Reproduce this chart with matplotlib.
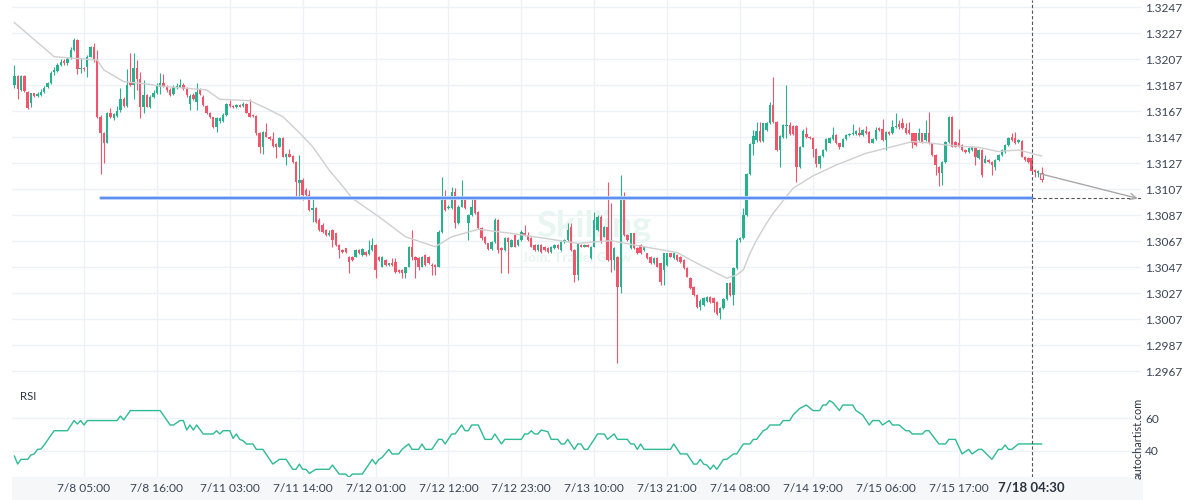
import matplotlib

matplotlib.use("Agg")
import matplotlib.pyplot as plt
from matplotlib.patches import Rectangle

plt.rcParams["font.family"] = ["Lato", "DejaVu Sans"]

GREEN = "#27b18f"
RED = "#f0556b"
BLUE = "#5b8ff0"
BLUE_GLOW = "#b6cffb"
MA_GREY = "#cfcfcf"
RSI_TEAL = "#2dba95"
GRID = "#eef2f7"
TEXT = "#3a4455"
BAND = "#f6f7f9"

# 30-minute candles, oldest first
opens = [
    1.31872, 1.31941, 1.31834, 1.31941, 1.31821, 1.31731, 1.31808, 1.31790, 1.31795, 1.31821,
    1.31854, 1.31885, 1.31975, 1.31982, 1.32026, 1.32057, 1.32039, 1.32077, 1.32141, 1.32218,
    1.31993, 1.32000, 1.32013, 1.32090, 1.32167, 1.32064, 1.31629, 1.31500, 1.31429, 1.31654,
    1.31616, 1.31634, 1.31680, 1.31767, 1.31711, 1.31885, 1.31870, 1.32000, 1.31918, 1.31706,
    1.31795, 1.31706, 1.31777, 1.31808, 1.31854, 1.31890, 1.31859, 1.31834, 1.31800, 1.31847,
    1.31859, 1.31872, 1.31839, 1.31726, 1.31795, 1.31744, 1.31834, 1.31782, 1.31711, 1.31654,
    1.31623, 1.31552, 1.31598, 1.31598, 1.31641, 1.31726, 1.31711, 1.31700, 1.31718, 1.31711,
    1.31726, 1.31659, 1.31641, 1.31634, 1.31500, 1.31398, 1.31513, 1.31470, 1.31454, 1.31418,
    1.31398, 1.31462, 1.31321, 1.31341, 1.31326, 1.31282, 1.31116, 1.31141, 1.31064, 1.31026,
    1.30910, 1.30923, 1.30834, 1.30795, 1.30757, 1.30718, 1.30757, 1.30731, 1.30641, 1.30603,
    1.30616, 1.30552, 1.30552, 1.30552, 1.30603, 1.30564, 1.30590, 1.30572, 1.30603, 1.30641,
    1.30552, 1.30475, 1.30526, 1.30487, 1.30500, 1.30513, 1.30449, 1.30449, 1.30423, 1.30475,
    1.30628, 1.30552, 1.30539, 1.30475, 1.30564, 1.30552, 1.30487, 1.30487, 1.30475, 1.30744,
    1.30987, 1.30923, 1.30923, 1.31051, 1.30808, 1.30936, 1.30987, 1.30808, 1.30872, 1.30993,
    1.30898, 1.30770, 1.30705, 1.30654, 1.30610, 1.30667, 1.30834, 1.30616, 1.30603, 1.30693,
    1.30628, 1.30718, 1.30641, 1.30680, 1.30736, 1.30718, 1.30693, 1.30641, 1.30603, 1.30641,
    1.30628, 1.30616, 1.30590, 1.30616, 1.30641, 1.30603, 1.30667, 1.30680, 1.30782, 1.30603,
    1.30410, 1.30641, 1.30628, 1.30641, 1.30539, 1.30628, 1.30757, 1.30859, 1.30705, 1.30782,
    1.30680, 1.30526, 1.30552, 1.30321, 1.31000, 1.30718, 1.30616, 1.30731, 1.30616, 1.30641,
    1.30603, 1.30577, 1.30552, 1.30500, 1.30539, 1.30500, 1.30449, 1.30487, 1.30577, 1.30539,
    1.30564, 1.30550, 1.30527, 1.30463, 1.30386, 1.30322, 1.30257, 1.30168, 1.30181, 1.30214,
    1.30245, 1.30232, 1.30206, 1.30116, 1.30155, 1.30224, 1.30352, 1.30257, 1.30463, 1.30680,
    1.30693, 1.30873, 1.31188, 1.31419, 1.31450, 1.31522, 1.31445, 1.31527, 1.31578, 1.31719,
    1.31591, 1.31373, 1.31470, 1.31557, 1.31565, 1.31557, 1.31557, 1.31239, 1.31398, 1.31496,
    1.31475, 1.31463, 1.31378, 1.31265, 1.31327, 1.31373, 1.31429, 1.31455, 1.31488, 1.31424,
    1.31398, 1.31455, 1.31488, 1.31493, 1.31496, 1.31501, 1.31488, 1.31522, 1.31514, 1.31429,
    1.31455, 1.31540, 1.31532, 1.31450, 1.31514, 1.31501, 1.31547, 1.31573, 1.31578, 1.31539,
    1.31526, 1.31501, 1.31501, 1.31449, 1.31501, 1.31449, 1.31501, 1.31424, 1.31334, 1.31244,
    1.31193, 1.31283, 1.31437, 1.31629, 1.31437, 1.31424, 1.31411, 1.31373, 1.31360, 1.31373,
    1.31385, 1.31308, 1.31373, 1.31275, 1.31296, 1.31283, 1.31244, 1.31296, 1.31334, 1.31360,
    1.31411, 1.31470, 1.31462, 1.31437, 1.31444, 1.31321, 1.31308, 1.31308, 1.31219, 1.31198,
    1.31198,
]
highs = [
    1.32026, 1.31949, 1.31947, 1.31947, 1.31829, 1.31813, 1.31813, 1.31821, 1.31839, 1.31864,
    1.31898, 1.31977, 1.32013, 1.32039, 1.32070, 1.32070, 1.32085, 1.32167, 1.32231, 1.32223,
    1.32077, 1.32013, 1.32103, 1.32172, 1.32193, 1.32141, 1.31641, 1.31513, 1.31667, 1.31693,
    1.31659, 1.31711, 1.31847, 1.31777, 1.31993, 1.32116, 1.32116, 1.32064, 1.31975, 1.31911,
    1.31803, 1.31795, 1.31834, 1.31885, 1.31967, 1.31957, 1.31872, 1.31847, 1.31872, 1.31885,
    1.31921, 1.31885, 1.31854, 1.31803, 1.31808, 1.31885, 1.31847, 1.31795, 1.31718, 1.31667,
    1.31629, 1.31629, 1.31629, 1.31654, 1.31731, 1.31757, 1.31718, 1.31726, 1.31726, 1.31744,
    1.31731, 1.31762, 1.31649, 1.31641, 1.31513, 1.31521, 1.31582, 1.31480, 1.31513, 1.31423,
    1.31470, 1.31470, 1.31352, 1.31377, 1.31334, 1.31290, 1.31334, 1.31154, 1.31077, 1.31064,
    1.31000, 1.30931, 1.30846, 1.30808, 1.30762, 1.30757, 1.30762, 1.30736, 1.30649, 1.30608,
    1.30616, 1.30557, 1.30557, 1.30608, 1.30608, 1.30616, 1.30598, 1.30680, 1.30693, 1.30649,
    1.30557, 1.30557, 1.30531, 1.30505, 1.30539, 1.30539, 1.30454, 1.30454, 1.30475, 1.30634,
    1.30757, 1.30557, 1.30546, 1.30557, 1.30572, 1.30557, 1.30500, 1.30495, 1.30757, 1.31167,
    1.31064, 1.30949, 1.31090, 1.31077, 1.30949, 1.31141, 1.30993, 1.30880, 1.31000, 1.31000,
    1.30905, 1.30777, 1.30710, 1.30659, 1.30675, 1.30846, 1.30839, 1.30623, 1.30700, 1.30700,
    1.30685, 1.30726, 1.30685, 1.30757, 1.30795, 1.30744, 1.30700, 1.30649, 1.30649, 1.30649,
    1.30634, 1.30623, 1.30634, 1.30649, 1.30649, 1.30675, 1.30685, 1.30808, 1.30808, 1.30608,
    1.30659, 1.30649, 1.30649, 1.30649, 1.30634, 1.30898, 1.30872, 1.30872, 1.30787, 1.31128,
    1.30962, 1.30623, 1.30557, 1.31180, 1.31051, 1.30726, 1.30736, 1.30736, 1.30623, 1.30649,
    1.30634, 1.30582, 1.30557, 1.30546, 1.30546, 1.30505, 1.30582, 1.30582, 1.30582, 1.30582,
    1.30572, 1.30560, 1.30532, 1.30470, 1.30393, 1.30327, 1.30265, 1.30224, 1.30240, 1.30250,
    1.30250, 1.30240, 1.30214, 1.30163, 1.30232, 1.30352, 1.30360, 1.30470, 1.30693, 1.30706,
    1.30924, 1.31198, 1.31424, 1.31527, 1.31591, 1.31591, 1.31583, 1.31591, 1.31745, 1.31937,
    1.31598, 1.31488, 1.31573, 1.31873, 1.31591, 1.31565, 1.31565, 1.31404, 1.31532, 1.31547,
    1.31480, 1.31470, 1.31386, 1.31334, 1.31378, 1.31463, 1.31475, 1.31547, 1.31496, 1.31429,
    1.31463, 1.31496, 1.31501, 1.31573, 1.31527, 1.31552, 1.31532, 1.31557, 1.31522, 1.31463,
    1.31552, 1.31547, 1.31609, 1.31522, 1.31522, 1.31604, 1.31655, 1.31604, 1.31616, 1.31578,
    1.31590, 1.31506, 1.31506, 1.31539, 1.31506, 1.31603, 1.31662, 1.31429, 1.31342, 1.31249,
    1.31291, 1.31444, 1.31634, 1.31634, 1.31444, 1.31532, 1.31419, 1.31378, 1.31393, 1.31403,
    1.31393, 1.31378, 1.31378, 1.31334, 1.31301, 1.31291, 1.31301, 1.31342, 1.31378, 1.31419,
    1.31470, 1.31506, 1.31514, 1.31455, 1.31449, 1.31326, 1.31316, 1.31316, 1.31224, 1.31219,
    1.31244,
]
lows = [
    1.31847, 1.31762, 1.31829, 1.31821, 1.31685, 1.31706, 1.31782, 1.31782, 1.31788, 1.31813,
    1.31847, 1.31880, 1.31949, 1.31975, 1.32018, 1.32026, 1.32026, 1.32070, 1.32136, 1.31957,
    1.31962, 1.31982, 1.31936, 1.32085, 1.32052, 1.31616, 1.31188, 1.31270, 1.31423, 1.31616,
    1.31603, 1.31629, 1.31667, 1.31700, 1.31706, 1.31864, 1.31767, 1.31834, 1.31616, 1.31654,
    1.31700, 1.31693, 1.31770, 1.31803, 1.31800, 1.31854, 1.31821, 1.31788, 1.31795, 1.31839,
    1.31854, 1.31834, 1.31782, 1.31680, 1.31757, 1.31680, 1.31795, 1.31711, 1.31649, 1.31616,
    1.31539, 1.31513, 1.31579, 1.31590, 1.31634, 1.31706, 1.31693, 1.31693, 1.31700, 1.31706,
    1.31654, 1.31623, 1.31623, 1.31488, 1.31347, 1.31341, 1.31470, 1.31449, 1.31398, 1.31308,
    1.31393, 1.31316, 1.31257, 1.31316, 1.31275, 1.31013, 1.31013, 1.30987, 1.31018, 1.30905,
    1.30821, 1.30813, 1.30752, 1.30736, 1.30710, 1.30710, 1.30628, 1.30634, 1.30539, 1.30582,
    1.30582, 1.30423, 1.30521, 1.30546, 1.30572, 1.30557, 1.30557, 1.30564, 1.30598, 1.30385,
    1.30521, 1.30469, 1.30480, 1.30480, 1.30480, 1.30428, 1.30428, 1.30385, 1.30385, 1.30469,
    1.30526, 1.30385, 1.30449, 1.30469, 1.30480, 1.30495, 1.30410, 1.30410, 1.30469, 1.30736,
    1.30905, 1.30916, 1.30916, 1.30769, 1.30803, 1.30931, 1.30916, 1.30680, 1.30864, 1.30880,
    1.30762, 1.30680, 1.30649, 1.30603, 1.30603, 1.30659, 1.30577, 1.30423, 1.30598, 1.30423,
    1.30623, 1.30623, 1.30634, 1.30675, 1.30710, 1.30675, 1.30623, 1.30598, 1.30598, 1.30582,
    1.30598, 1.30582, 1.30582, 1.30608, 1.30608, 1.30598, 1.30659, 1.30675, 1.30598, 1.30359,
    1.30372, 1.30623, 1.30623, 1.30623, 1.30531, 1.30623, 1.30752, 1.30659, 1.30700, 1.30521,
    1.30436, 1.30449, 1.29731, 1.30269, 1.30710, 1.30675, 1.30608, 1.30608, 1.30572, 1.30572,
    1.30598, 1.30531, 1.30495, 1.30495, 1.30469, 1.30334, 1.30334, 1.30480, 1.30546, 1.30531,
    1.30521, 1.30500, 1.30455, 1.30393, 1.30301, 1.30250, 1.30155, 1.30142, 1.30173, 1.30206,
    1.30198, 1.30129, 1.30104, 1.30070, 1.30147, 1.30219, 1.30250, 1.30181, 1.30455, 1.30668,
    1.30686, 1.30865, 1.31180, 1.31334, 1.31437, 1.31437, 1.31437, 1.31522, 1.31573, 1.31583,
    1.31368, 1.31245, 1.31463, 1.31463, 1.31488, 1.31488, 1.31129, 1.31232, 1.31393, 1.31463,
    1.31455, 1.31322, 1.31245, 1.31232, 1.31322, 1.31368, 1.31424, 1.31450, 1.31419, 1.31378,
    1.31393, 1.31450, 1.31480, 1.31488, 1.31488, 1.31480, 1.31480, 1.31496, 1.31424, 1.31424,
    1.31450, 1.31522, 1.31445, 1.31373, 1.31488, 1.31496, 1.31540, 1.31535, 1.31532, 1.31496,
    1.31496, 1.31385, 1.31403, 1.31444, 1.31429, 1.31444, 1.31419, 1.31326, 1.31180, 1.31096,
    1.31103, 1.31275, 1.31429, 1.31393, 1.31393, 1.31393, 1.31367, 1.31352, 1.31352, 1.31367,
    1.31257, 1.31301, 1.31167, 1.31270, 1.31275, 1.31180, 1.31219, 1.31291, 1.31326, 1.31352,
    1.31403, 1.31444, 1.31419, 1.31429, 1.31316, 1.31291, 1.31275, 1.31206, 1.31167, 1.31167,
    1.31129,
]
closes = [
    1.31941, 1.31844, 1.31941, 1.31829, 1.31693, 1.31808, 1.31790, 1.31800, 1.31818, 1.31849,
    1.31885, 1.31967, 1.31988, 1.32026, 1.32052, 1.32039, 1.32075, 1.32141, 1.32218, 1.31993,
    1.32000, 1.31993, 1.32090, 1.32167, 1.32064, 1.31629, 1.31500, 1.31429, 1.31654, 1.31623,
    1.31649, 1.31675, 1.31767, 1.31711, 1.31872, 1.31870, 1.32000, 1.31918, 1.31706, 1.31795,
    1.31706, 1.31782, 1.31813, 1.31864, 1.31885, 1.31859, 1.31834, 1.31795, 1.31854, 1.31864,
    1.31872, 1.31839, 1.31795, 1.31788, 1.31762, 1.31818, 1.31803, 1.31718, 1.31654, 1.31623,
    1.31547, 1.31616, 1.31616, 1.31641, 1.31726, 1.31711, 1.31700, 1.31716, 1.31706, 1.31726,
    1.31659, 1.31629, 1.31634, 1.31500, 1.31398, 1.31513, 1.31475, 1.31454, 1.31403, 1.31398,
    1.31462, 1.31321, 1.31341, 1.31321, 1.31282, 1.31129, 1.31141, 1.31026, 1.31026, 1.30910,
    1.30923, 1.30821, 1.30757, 1.30744, 1.30718, 1.30731, 1.30680, 1.30641, 1.30603, 1.30590,
    1.30590, 1.30513, 1.30526, 1.30603, 1.30577, 1.30608, 1.30564, 1.30603, 1.30641, 1.30449,
    1.30526, 1.30546, 1.30487, 1.30500, 1.30487, 1.30436, 1.30436, 1.30423, 1.30469, 1.30628,
    1.30552, 1.30526, 1.30475, 1.30552, 1.30487, 1.30500, 1.30480, 1.30475, 1.30744, 1.30987,
    1.30910, 1.30936, 1.31051, 1.30808, 1.30936, 1.31000, 1.30923, 1.30872, 1.30936, 1.30885,
    1.30770, 1.30693, 1.30654, 1.30610, 1.30667, 1.30834, 1.30603, 1.30603, 1.30693, 1.30667,
    1.30680, 1.30628, 1.30680, 1.30744, 1.30718, 1.30680, 1.30628, 1.30603, 1.30641, 1.30590,
    1.30603, 1.30590, 1.30628, 1.30641, 1.30616, 1.30667, 1.30680, 1.30757, 1.30603, 1.30410,
    1.30654, 1.30628, 1.30641, 1.30628, 1.30628, 1.30834, 1.30859, 1.30667, 1.30782, 1.30526,
    1.30526, 1.30616, 1.30321, 1.31000, 1.30718, 1.30680, 1.30731, 1.30616, 1.30577, 1.30577,
    1.30628, 1.30539, 1.30500, 1.30539, 1.30475, 1.30359, 1.30577, 1.30577, 1.30552, 1.30577,
    1.30526, 1.30510, 1.30463, 1.30398, 1.30309, 1.30257, 1.30163, 1.30214, 1.30232, 1.30240,
    1.30206, 1.30193, 1.30111, 1.30155, 1.30224, 1.30347, 1.30257, 1.30463, 1.30680, 1.30693,
    1.30873, 1.31188, 1.31419, 1.31480, 1.31522, 1.31445, 1.31578, 1.31578, 1.31719, 1.31591,
    1.31373, 1.31480, 1.31565, 1.31565, 1.31496, 1.31496, 1.31239, 1.31398, 1.31522, 1.31470,
    1.31463, 1.31378, 1.31265, 1.31327, 1.31373, 1.31455, 1.31463, 1.31488, 1.31424, 1.31398,
    1.31455, 1.31488, 1.31496, 1.31501, 1.31522, 1.31488, 1.31527, 1.31501, 1.31429, 1.31455,
    1.31527, 1.31527, 1.31450, 1.31514, 1.31496, 1.31552, 1.31557, 1.31547, 1.31539, 1.31501,
    1.31501, 1.31424, 1.31411, 1.31501, 1.31437, 1.31501, 1.31424, 1.31334, 1.31257, 1.31193,
    1.31283, 1.31437, 1.31629, 1.31398, 1.31398, 1.31398, 1.31373, 1.31360, 1.31385, 1.31398,
    1.31321, 1.31373, 1.31180, 1.31301, 1.31283, 1.31257, 1.31296, 1.31334, 1.31373, 1.31411,
    1.31462, 1.31449, 1.31424, 1.31449, 1.31321, 1.31296, 1.31283, 1.31214, 1.31206, 1.31214,
    1.31147,
]

# moving average read at sample candles
ma_idx = [0, 12, 25, 27, 33, 40, 44, 58, 62, 71, 76, 81, 86, 90, 95, 100, 102, 110, 118, 127,
          132, 140, 150, 160, 170, 180, 190, 200, 206, 215, 218, 220, 222, 224, 227, 229, 233,
          235, 241, 248, 257, 265, 271, 277, 281, 287, 291, 297, 303, 310]
ma_val = [1.32352, 1.32090, 1.32064, 1.31988, 1.31898, 1.31880, 1.31864, 1.31834, 1.31762,
          1.31752, 1.31693, 1.31629, 1.31505, 1.31398, 1.31218, 1.31065, 1.31000, 1.30859,
          1.30705, 1.30628, 1.30705, 1.30762, 1.30731, 1.30693, 1.30654, 1.30675, 1.30628,
          1.30583, 1.30501, 1.30386, 1.30411, 1.30450, 1.30578, 1.30680, 1.30809, 1.30886,
          1.31014, 1.31078, 1.31173, 1.31257, 1.31347, 1.31398, 1.31437, 1.31424, 1.31411,
          1.31398, 1.31393, 1.31360, 1.31373, 1.31326]

rsi_idx = [0, 1, 2, 4, 5, 6, 7, 8, 9, 12, 16, 18, 19, 20, 21, 22, 31, 32, 33, 35, 44, 47, 48, 50,
           51, 52, 53, 54, 55, 57, 60, 61, 62, 63, 65, 66, 67, 68, 69, 70, 72, 73, 75, 78, 80, 82,
           84, 85, 86, 87, 88, 89, 91, 95, 96, 98, 100, 101, 102, 105, 108, 109, 110, 111, 113,
           114, 116, 117, 119, 120, 122, 123, 124, 126, 128, 129, 130, 132, 133, 135, 136, 137,
           138, 140, 142, 144, 145, 147, 148, 153, 154, 155, 156, 157, 158, 159, 161, 162, 164,
           165, 166, 167, 169, 170, 171, 172, 173, 176, 178, 179, 181, 182, 185, 186, 187, 188,
           189, 190, 198, 199, 201, 203, 205, 206, 207, 208, 209, 210, 211, 212, 214, 215, 217,
           218, 220, 222, 223, 224, 226, 227, 228, 231, 232, 234, 235, 237, 239, 241, 243, 244,
           245, 246, 247, 249, 250, 253, 254, 256, 258, 259, 261, 262, 264, 265, 267, 269, 270,
           271, 274, 275, 276, 279, 281, 282, 284, 286, 288, 289, 291, 292, 295, 297, 298, 299,
           300, 301, 303, 310]
rsi_val = [36.9, 32.0, 34.9, 34.9, 37.5, 38.2, 41.0, 41.2, 43.7, 52.4, 52.4, 58.6, 56.5, 58.6,
           55.9, 58.6, 58.6, 61.4, 59.0, 64.7, 64.7, 55.9, 55.9, 58.6, 58.6, 52.8, 55.9, 52.8,
           55.9, 50.4, 50.4, 52.4, 50.4, 52.4, 52.4, 47.7, 50.4, 47.1, 46.3, 44.3, 44.3, 41.0,
           41.0, 32.0, 34.9, 34.9, 28.8, 28.8, 32.0, 28.8, 28.8, 26.3, 28.8, 28.8, 31.4, 25.9,
           25.9, 23.9, 25.9, 25.9, 34.9, 32.0, 34.9, 36.1, 41.0, 38.2, 38.2, 41.0, 44.3, 41.0,
           41.0, 44.3, 41.0, 41.0, 47.1, 47.1, 44.3, 50.4, 50.4, 55.9, 52.4, 52.4, 55.9, 55.9,
           47.1, 47.1, 50.4, 44.3, 47.1, 47.1, 50.4, 50.4, 52.4, 50.4, 50.4, 52.8, 51.8, 47.1,
           47.1, 44.3, 44.3, 47.1, 41.0, 44.3, 44.3, 41.0, 41.0, 50.4, 50.4, 47.1, 50.4, 47.1,
           47.1, 44.3, 44.3, 41.0, 44.3, 41.0, 41.0, 44.3, 38.2, 38.2, 32.0, 32.0, 34.9, 32.0,
           31.4, 28.8, 31.4, 28.8, 34.9, 34.9, 38.2, 38.2, 44.3, 44.3, 47.1, 47.1, 52.4, 53.3,
           55.9, 55.9, 58.6, 58.6, 62.0, 66.0, 68.1, 64.7, 64.7, 68.1, 68.1, 70.8, 69.6, 64.7,
           68.1, 68.1, 64.7, 62.0, 55.9, 58.6, 58.6, 55.9, 58.6, 55.9, 55.9, 52.4, 52.4, 50.4,
           50.4, 52.4, 52.4, 44.3, 44.3, 47.1, 47.1, 38.2, 41.0, 38.2, 41.0, 41.0, 34.9, 41.0,
           41.0, 43.7, 41.0, 41.0, 44.3, 44.3]

price_ticks = [1.2967, 1.2987, 1.3007, 1.3027, 1.3047, 1.3067, 1.3087, 1.3107,
               1.3127, 1.3147, 1.3167, 1.3187, 1.3207, 1.3227, 1.3247]
time_idx = [21, 43, 65, 87, 109, 131, 153, 175, 197, 219, 241, 263, 285]
time_labels = ["7/8 05:00", "7/8 16:00", "7/11 03:00", "7/11 14:00", "7/12 01:00",
               "7/12 12:00", "7/12 23:00", "7/13 10:00", "7/13 21:00", "7/14 08:00",
               "7/14 19:00", "7/15 06:00", "7/15 17:00"]
now_idx = 307
now_label = "7/18 04:30"
level_start = 26
level = 1.3100
forecast_idx = [309.5, 339]
forecast_val = [1.3119, 1.3100]

# layout in figure fractions (1200 x 500 px)
LEFT, RIGHT = 12.3 / 1200, 1141 / 1200
X_MIN, X_MAX = -0.63, 340


def draw_candles(ax):
    n = len(closes)
    idx = list(range(n))
    cols = [GREEN if c >= o else RED for o, c in zip(opens, closes)]
    bottoms = [min(o, c) for o, c in zip(opens, closes)]
    heights = [max(abs(c - o), 0.00002) for o, c in zip(opens, closes)]
    ax.vlines(idx[:-1], lows[:-1], highs[:-1], colors=cols[:-1], lw=0.8, zorder=3)
    ax.bar(idx[:-1], heights[:-1], bottom=bottoms[:-1], width=0.72, color=cols[:-1],
           linewidth=0, zorder=4)
    # the still-forming last candle is drawn hollow
    ax.vlines(idx[-1], lows[-1], highs[-1], colors=cols[-1], lw=0.8, zorder=3)
    ax.bar(idx[-1], heights[-1], bottom=bottoms[-1], width=0.72, facecolor="white",
           edgecolor=cols[-1], linewidth=0.8, zorder=4)


fig = plt.figure(figsize=(12, 5), dpi=100)
ax = fig.add_axes([LEFT, 0.24, RIGHT - LEFT, 0.76])
rax = fig.add_axes([LEFT, 0.046, RIGHT - LEFT, 0.194])

fig.add_artist(Rectangle((LEFT, 0), RIGHT - LEFT + 2 / 1200, 0.046, transform=fig.transFigure,
                         facecolor=BAND, edgecolor="none", zorder=-5))

# watermark
ax.text(0.515, 0.405, "Skilling", transform=ax.transAxes, fontsize=26, fontweight="bold",
        color="#e8f6f1", ha="center", va="center", zorder=1)
ax.text(0.5, 0.322, "Join. Trade. Grow", transform=ax.transAxes, fontsize=10,
        fontweight="bold", color="#e8f6f1", ha="center", va="center", zorder=1)

draw_candles(ax)
ax.plot(ma_idx, ma_val, color=MA_GREY, lw=1.0, zorder=5)

ax.plot([level_start, now_idx], [level, level], color=BLUE_GLOW, lw=2.8, zorder=6,
        solid_capstyle="round")
ax.plot([level_start, now_idx], [level, level], color=BLUE, lw=1.4, zorder=7)
ax.plot([now_idx, X_MAX], [level, level], color="#555555", lw=0.8, ls=(0, (3, 2)), zorder=6)
ax.annotate("", xy=(forecast_idx[1], forecast_val[1]), xytext=(forecast_idx[0], forecast_val[0]),
            arrowprops=dict(arrowstyle="->", color="#a8a8a8", lw=1, mutation_scale=11,
                            shrinkA=0, shrinkB=0), zorder=6)

for a in (ax, rax):
    a.axvline(now_idx, color="#555555", lw=0.8, ls=(0, (3, 2)), zorder=8)
    a.set_xlim(X_MIN, X_MAX)
    a.set_xticks(time_idx)
    a.grid(True, color=GRID, lw=1)
    a.set_axisbelow(True)
    a.yaxis.tick_right()
    for s in a.spines.values():
        s.set_visible(False)
    a.tick_params(length=0, labelsize=8.6, labelcolor=TEXT, pad=3)

ax.set_ylim(1.29603, 1.32526)
ax.set_yticks(price_ticks)
ax.set_yticklabels([f"{v:.4f}" for v in price_ticks])
ax.tick_params(axis="x", labelbottom=False)

rax.plot(rsi_idx, rsi_val, color=RSI_TEAL, lw=1, zorder=4)
rax.set_ylim(24.1, 83.4)
rax.set_yticks([40, 60])
rax.set_xticklabels(time_labels)
rax.tick_params(axis="x", pad=4)
rax.annotate(now_label, xy=(now_idx, 0), xycoords=("data", "axes fraction"),
             xytext=(0, -3), textcoords="offset points", ha="center", va="top",
             fontsize=9.5, fontweight="bold", color="#2b3240")

fig.text(20 / 1200, 1 - 397 / 500, "RSI", fontsize=8.2, color="#2b3240", va="center")
fig.text(1138.5 / 1200, 1 - 438 / 500, "autochartist.com", rotation=90, fontsize=7.8,
         color="#2b3240", ha="center", va="center")

fig.savefig("out.png", dpi=100, facecolor="white")
